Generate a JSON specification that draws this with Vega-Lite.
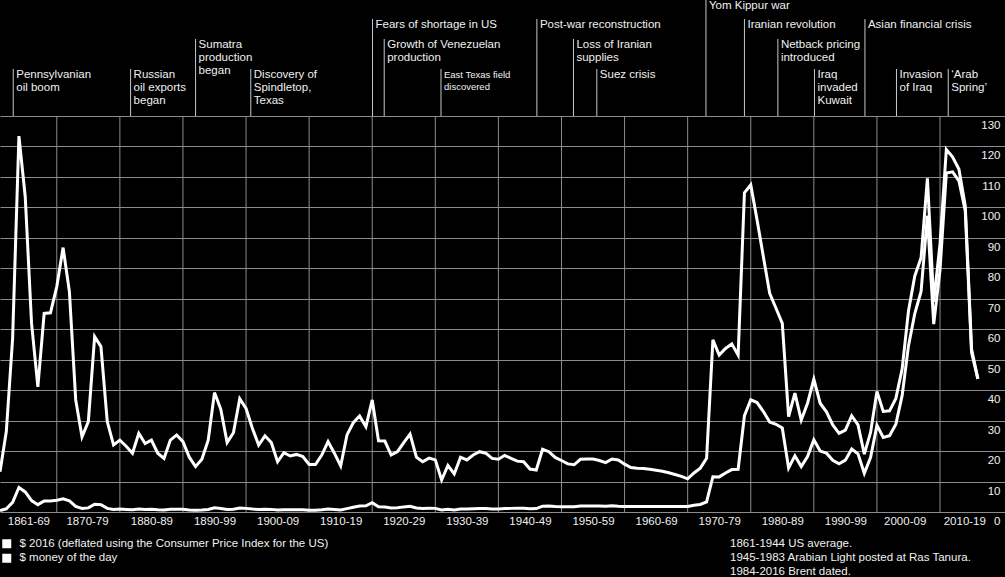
{
  "$schema": "https://vega.github.io/schema/vega-lite/v6.json",
  "width": 1005,
  "height": 396,
  "autosize": "none",
  "padding": {"top": 116, "bottom": 65, "left": 0, "right": 0},
  "background": "#000000",
  "config": {
    "view": {"stroke": null},
    "font": "Liberation Sans",
    "text": {"font": "Liberation Sans"}
  },
  "title": {
    "text": ["1861-1944 US average.", "1945-1983 Arabian Light posted at Ras Tanura.", "1984-2016 Brent dated."],
    "orient": "bottom",
    "anchor": "start",
    "frame": "group",
    "dx": 730,
    "offset": -26,
    "fontSize": 11.5,
    "fontWeight": "normal",
    "font": "Liberation Sans",
    "color": "#f0f0f0",
    "lineHeight": 14
  },
  "datasets": {
    "prices": [
      {"year":1861,"real":13.2,"nominal":0.49},{"year":1862,"real":26.4,"nominal":1.05},{"year":1863,"real":57,"nominal":3.15},{"year":1864,"real":123.4,"nominal":8.06},{"year":1865,"real":103.5,"nominal":6.59},{"year":1866,"real":62,"nominal":3.74},{"year":1867,"real":41.1,"nominal":2.41},{"year":1868,"real":65.2,"nominal":3.63},{"year":1869,"real":65.4,"nominal":3.64},
      {"year":1870,"real":74,"nominal":3.86},{"year":1871,"real":86.8,"nominal":4.34},{"year":1872,"real":72.3,"nominal":3.64},{"year":1873,"real":36.8,"nominal":1.83},{"year":1874,"real":24.7,"nominal":1.17},{"year":1875,"real":29.7,"nominal":1.35},{"year":1876,"real":57.6,"nominal":2.56},{"year":1877,"real":54.3,"nominal":2.42},{"year":1878,"real":29.7,"nominal":1.19},{"year":1879,"real":22,"nominal":0.86},
      {"year":1880,"real":23.6,"nominal":0.95},{"year":1881,"real":21.6,"nominal":0.86},{"year":1882,"real":19.3,"nominal":0.78},{"year":1883,"real":25.8,"nominal":1.0},{"year":1884,"real":22.5,"nominal":0.84},{"year":1885,"real":23.6,"nominal":0.88},{"year":1886,"real":19.3,"nominal":0.71},{"year":1887,"real":17.6,"nominal":0.67},{"year":1888,"real":23.6,"nominal":0.88},{"year":1889,"real":25.3,"nominal":0.94},
      {"year":1890,"real":23.1,"nominal":0.87},{"year":1891,"real":18,"nominal":0.67},{"year":1892,"real":14.9,"nominal":0.56},{"year":1893,"real":17.3,"nominal":0.64},{"year":1894,"real":23.6,"nominal":0.84},{"year":1895,"real":39.2,"nominal":1.36},{"year":1896,"real":33.7,"nominal":1.18},{"year":1897,"real":22.8,"nominal":0.79},{"year":1898,"real":26,"nominal":0.91},{"year":1899,"real":37.2,"nominal":1.29},
      {"year":1900,"real":34,"nominal":1.19},{"year":1901,"real":27.5,"nominal":0.96},{"year":1902,"real":22,"nominal":0.8},{"year":1903,"real":25,"nominal":0.94},{"year":1904,"real":22.8,"nominal":0.86},{"year":1905,"real":16.5,"nominal":0.62},{"year":1906,"real":19.5,"nominal":0.73},{"year":1907,"real":18.4,"nominal":0.72},{"year":1908,"real":18.9,"nominal":0.72},{"year":1909,"real":18.2,"nominal":0.7},
      {"year":1910,"real":15.6,"nominal":0.61},{"year":1911,"real":15.6,"nominal":0.61},{"year":1912,"real":18.7,"nominal":0.74},{"year":1913,"real":23.1,"nominal":0.95},{"year":1914,"real":19.3,"nominal":0.81},{"year":1915,"real":15.1,"nominal":0.64},{"year":1916,"real":25.3,"nominal":1.1},{"year":1917,"real":29.3,"nominal":1.56},{"year":1918,"real":31.5,"nominal":1.98},{"year":1919,"real":28,"nominal":2.01},
      {"year":1920,"real":36.8,"nominal":3.07},{"year":1921,"real":23.4,"nominal":1.73},{"year":1922,"real":23.3,"nominal":1.61},{"year":1923,"real":18.7,"nominal":1.34},{"year":1924,"real":19.8,"nominal":1.43},{"year":1925,"real":22.8,"nominal":1.68},{"year":1926,"real":25.6,"nominal":1.88},{"year":1927,"real":18,"nominal":1.3},{"year":1928,"real":16.5,"nominal":1.17},{"year":1929,"real":17.7,"nominal":1.27},
      {"year":1930,"real":17.1,"nominal":1.19},{"year":1931,"real":10.5,"nominal":0.65},{"year":1932,"real":15.3,"nominal":0.87},{"year":1933,"real":12.5,"nominal":0.67},{"year":1934,"real":18,"nominal":1.0},{"year":1935,"real":17.1,"nominal":0.97},{"year":1936,"real":18.7,"nominal":1.09},{"year":1937,"real":19.8,"nominal":1.18},{"year":1938,"real":19.3,"nominal":1.13},{"year":1939,"real":17.6,"nominal":1.02},
      {"year":1940,"real":17.3,"nominal":1.02},{"year":1941,"real":18.6,"nominal":1.14},{"year":1942,"real":17.6,"nominal":1.19},{"year":1943,"real":16.7,"nominal":1.2},{"year":1944,"real":16.5,"nominal":1.21},{"year":1945,"real":14.1,"nominal":1.05},{"year":1946,"real":13.8,"nominal":1.12},{"year":1947,"real":20.6,"nominal":1.9},{"year":1948,"real":19.8,"nominal":1.99},{"year":1949,"real":17.9,"nominal":1.78},
      {"year":1950,"real":16.9,"nominal":1.71},{"year":1951,"real":15.8,"nominal":1.71},{"year":1952,"real":15.5,"nominal":1.71},{"year":1953,"real":17.3,"nominal":1.93},{"year":1954,"real":17.4,"nominal":1.93},{"year":1955,"real":17.4,"nominal":1.93},{"year":1956,"real":16.9,"nominal":1.93},{"year":1957,"real":16.2,"nominal":1.9},{"year":1958,"real":17.4,"nominal":2.08},{"year":1959,"real":17.1,"nominal":1.9},
      {"year":1960,"real":15.7,"nominal":1.8},{"year":1961,"real":14.6,"nominal":1.8},{"year":1962,"real":14.4,"nominal":1.8},{"year":1963,"real":14.3,"nominal":1.8},{"year":1964,"real":14,"nominal":1.8},{"year":1965,"real":13.7,"nominal":1.8},{"year":1966,"real":13.4,"nominal":1.8},{"year":1967,"real":12.9,"nominal":1.8},{"year":1968,"real":12.3,"nominal":1.8},{"year":1969,"real":11.7,"nominal":1.8},
      {"year":1970,"real":10.9,"nominal":1.8},{"year":1971,"real":12.8,"nominal":2.24},{"year":1972,"real":14.4,"nominal":2.48},{"year":1973,"real":17.6,"nominal":3.29},{"year":1974,"real":56.5,"nominal":11.58},{"year":1975,"real":51.5,"nominal":11.53},{"year":1976,"real":53.7,"nominal":12.8},{"year":1977,"real":55.2,"nominal":13.92},{"year":1978,"real":51.5,"nominal":14.02},{"year":1979,"real":104.8,"nominal":31.61},
      {"year":1980,"real":107.4,"nominal":36.83},{"year":1981,"real":95.9,"nominal":35.93},{"year":1982,"real":83.8,"nominal":32.97},{"year":1983,"real":71.8,"nominal":29.55},{"year":1984,"real":66.9,"nominal":28.78},{"year":1985,"real":61.9,"nominal":27.56},{"year":1986,"real":31.3,"nominal":14.43},{"year":1987,"real":39,"nominal":18.44},{"year":1988,"real":30.2,"nominal":14.92},{"year":1989,"real":35.7,"nominal":18.23},
      {"year":1990,"real":43.6,"nominal":23.73},{"year":1991,"real":35.7,"nominal":20.0},{"year":1992,"real":32.9,"nominal":19.32},{"year":1993,"real":28.6,"nominal":16.97},{"year":1994,"real":25.8,"nominal":15.82},{"year":1995,"real":26.9,"nominal":17.02},{"year":1996,"real":31.6,"nominal":20.67},{"year":1997,"real":28.6,"nominal":19.09},{"year":1998,"real":19,"nominal":12.72},{"year":1999,"real":26.2,"nominal":17.97},
      {"year":2000,"real":39.6,"nominal":28.5},{"year":2001,"real":33,"nominal":24.44},{"year":2002,"real":33.2,"nominal":25.02},{"year":2003,"real":37.3,"nominal":28.83},{"year":2004,"real":47,"nominal":38.27},{"year":2005,"real":66,"nominal":54.52},{"year":2006,"real":77.5,"nominal":65.14},{"year":2007,"real":83.5,"nominal":72.39},{"year":2008,"real":109.5,"nominal":97.26},{"year":2009,"real":69,"nominal":61.67},
      {"year":2010,"real":88,"nominal":79.5},{"year":2011,"real":119,"nominal":111.26},{"year":2012,"real":116.5,"nominal":111.67},{"year":2013,"real":112.5,"nominal":108.66},{"year":2014,"real":100.5,"nominal":98.95},{"year":2015,"real":53.5,"nominal":52.39},{"year":2016,"real":43.7,"nominal":43.73}
    ],
    "decades": [
      {"year":1870},{"year":1880},{"year":1890},{"year":1900},{"year":1910},{"year":1920},{"year":1930},{"year":1940},{"year":1950},{"year":1960},{"year":1970},{"year":1980},{"year":1990},{"year":2000},{"year":2010}
    ],
    "events": [
      {"event":"Pennsylvanian oil boom","year":1863.1,"tier":3,"lines":["Pennsylvanian","oil boom"]},
      {"event":"Russian oil exports began","year":1881.7,"tier":3,"lines":["Russian","oil exports","began"]},
      {"event":"Sumatra production began","year":1892.0,"tier":2,"lines":["Sumatra","production","began"]},
      {"event":"Discovery of Spindletop, Texas","year":1900.75,"tier":3,"lines":["Discovery of","Spindletop,","Texas"]},
      {"event":"Fears of shortage in US","year":1920.05,"tier":1,"lines":["Fears of shortage in US"]},
      {"event":"Growth of Venezuelan production","year":1921.9,"tier":2,"lines":["Growth of Venezuelan","production"]},
      {"event":"East Texas field discovered","year":1930.9,"tier":3,"lines":["East Texas field","discovered"]},
      {"event":"Post-war reconstruction","year":1946.1,"tier":1,"lines":["Post-war reconstruction"]},
      {"event":"Loss of Iranian supplies","year":1951.9,"tier":2,"lines":["Loss of Iranian","supplies"]},
      {"event":"Suez crisis","year":1955.6,"tier":3,"lines":["Suez crisis"]},
      {"event":"Yom Kippur war","year":1972.9,"tier":0,"lines":["Yom Kippur war"]},
      {"event":"Iranian revolution","year":1979.0,"tier":1,"lines":["Iranian revolution"]},
      {"event":"Netback pricing introduced","year":1984.3,"tier":2,"lines":["Netback pricing","introduced"]},
      {"event":"Iraq invaded Kuwait","year":1990.1,"tier":3,"lines":["Iraq","invaded","Kuwait"]},
      {"event":"Asian financial crisis","year":1998.1,"tier":1,"lines":["Asian financial crisis"]},
      {"event":"Invasion of Iraq","year":2003.1,"tier":3,"lines":["Invasion","of Iraq"]},
      {"event":"Arab Spring","year":2011.3,"tier":3,"lines":["\u2018Arab","Spring\u2019"]}
    ]
  },
  "layer": [
    {
      "layer": [
        {
          "data": {"name": "decades"},
          "mark": {"type": "rule", "color": "#8c8c8c", "strokeWidth": 1},
          "encoding": {
            "x": {
              "field": "year", "type": "quantitative",
              "scale": {"domain": [1861, 2020.3], "nice": false, "zero": false},
              "axis": {
                "title": null, "grid": false, "ticks": false, "domain": false,
                "values": [1865.5, 1874.8, 1885, 1895, 1905, 1915, 1925, 1935, 1945, 1955, 1965, 1975, 1985, 1995, 2004.4, 2013.85],
                "labelExpr": "datum.value < 1866 ? '1861-69' : (floor(datum.value/10)*10) + '-' + (floor(datum.value/10)%10) + '9'",
                "labelFontSize": 11.5, "labelColor": "#f0f0f0", "labelFont": "Liberation Sans",
                "labelPadding": 3, "labelFlush": false, "labelOverlap": false, "labelBaseline": "top"
              }
            },
            "y": {
              "datum": 0, "type": "quantitative",
              "scale": {"domain": [0, 130], "nice": false},
              "axis": {
                "title": null, "orient": "right", "values": [0,10,20,30,40,50,60,70,80,90,100,110,120,130],
                "grid": true, "gridColor": "#8c8c8c", "gridWidth": 1, "gridOpacity": 1,
                "ticks": false, "tickSize": 0, "domain": false,
                "labelAlign": "right", "labelPadding": -5, "labelBaseline": "middle", "labelOffset": 9.5,
                "labelFontSize": 11.5, "labelColor": "#f0f0f0", "labelFont": "Liberation Sans", "labelFlush": false, "labelOverlap": false
              }
            },
            "y2": {"datum": 130}
          }
        },
        {
          "data": {"name": "prices"},
          "transform": [{"fold": ["real", "nominal"], "as": ["series", "value"]}],
          "mark": {"type": "line", "strokeWidth": 3, "strokeJoin": "miter", "clip": false},
          "encoding": {
            "x": {
              "field": "year", "type": "quantitative",
              "scale": {"domain": [1861, 2020.3], "nice": false, "zero": false},
              "axis": {
                "title": null, "grid": false, "ticks": false, "domain": false,
                "values": [1865.5, 1874.8, 1885, 1895, 1905, 1915, 1925, 1935, 1945, 1955, 1965, 1975, 1985, 1995, 2004.4, 2013.85],
                "labelExpr": "datum.value < 1866 ? '1861-69' : (floor(datum.value/10)*10) + '-' + (floor(datum.value/10)%10) + '9'",
                "labelFontSize": 11.5, "labelColor": "#f0f0f0", "labelFont": "Liberation Sans",
                "labelPadding": 3, "labelFlush": false, "labelOverlap": false, "labelBaseline": "top"
              }
            },
            "y": {
              "field": "value", "type": "quantitative",
              "scale": {"domain": [0, 130], "nice": false},
              "axis": {
                "title": null, "orient": "right", "values": [0,10,20,30,40,50,60,70,80,90,100,110,120,130],
                "grid": true, "gridColor": "#8c8c8c", "gridWidth": 1, "gridOpacity": 1,
                "ticks": false, "tickSize": 0, "domain": false,
                "labelAlign": "right", "labelPadding": -5, "labelBaseline": "middle", "labelOffset": 9.5,
                "labelFontSize": 11.5, "labelColor": "#f0f0f0", "labelFont": "Liberation Sans", "labelFlush": false, "labelOverlap": false
              }
            },
            "color": {
              "field": "series", "type": "nominal",
              "scale": {"domain": ["real", "nominal"], "range": ["#ffffff", "#ffffff"]},
              "legend": {
                "orient": "none", "legendX": 1, "legendY": 422, "title": null, "padding": 0,
                "symbolType": "square", "symbolSize": 81, "symbolFillColor": "#ffffff", "symbolStrokeWidth": 0,
                "labelFontSize": 11.5, "labelColor": "#f0f0f0", "labelFont": "Liberation Sans", "labelOffset": 7, "labelLimit": 0,
                "rowPadding": 1.5,
                "labelExpr": "datum.label === 'real' ? '$ 2016 (deflated using the Consumer Price Index for the US)' : '$ money of the day'",
                "encode": {"symbols": {"update": {"fill": {"value": "#ffffff"}, "stroke": {"value": "#ffffff"}, "strokeWidth": {"value": 0}, "shape": {"value": "square"}, "size": {"value": 81}}}}
              }
            }
          }
        }
      ]
    },
    {
      "data": {"name": "events"},
      "layer": [
        {
          "mark": {"type": "rule", "color": "#c8c8c8", "strokeWidth": 1},
          "encoding": {
            "x": {
              "field": "year", "type": "quantitative",
              "scale": {"domain": [1861, 2020.3], "nice": false, "zero": false},
              "axis": {
                "title": null, "grid": false, "ticks": false, "domain": false,
                "values": [1865.5, 1874.8, 1885, 1895, 1905, 1915, 1925, 1935, 1945, 1955, 1965, 1975, 1985, 1995, 2004.4, 2013.85],
                "labelExpr": "datum.value < 1866 ? '1861-69' : (floor(datum.value/10)*10) + '-' + (floor(datum.value/10)%10) + '9'",
                "labelFontSize": 11.5, "labelColor": "#f0f0f0", "labelFont": "Liberation Sans",
                "labelPadding": 3, "labelFlush": false, "labelOverlap": false, "labelBaseline": "top"
              }
            },
            "y": {"field": "tier", "type": "quantitative", "scale": {"domain": [0, 1, 2, 3, 4], "range": [-116, -97, -77, -47, 0], "nice": false, "zero": false},
              "axis": {"title": null, "orient": "left", "grid": false, "ticks": false, "domain": false, "labels": false}},
            "y2": {"datum": 4}
          }
        },
        {
          "transform": [{"filter": "datum.event !== 'East Texas field discovered'"}],
          "mark": {"type": "text", "align": "left", "baseline": "top", "dx": 3, "dy": 0, "fontSize": 11.5, "lineHeight": 13, "color": "#f0f0f0", "font": "Liberation Sans"},
          "encoding": {
            "x": {"field": "year", "type": "quantitative"},
            "y": {"field": "tier", "type": "quantitative"},
            "text": {"field": "lines", "type": "nominal"}
          }
        },
        {
          "transform": [{"filter": "datum.event === 'East Texas field discovered'"}],
          "mark": {"type": "text", "align": "left", "baseline": "top", "dx": 3, "dy": 1, "fontSize": 9.5, "lineHeight": 12, "color": "#f0f0f0", "font": "Liberation Sans"},
          "encoding": {
            "x": {"field": "year", "type": "quantitative"},
            "y": {"field": "tier", "type": "quantitative"},
            "text": {"field": "lines", "type": "nominal"}
          }
        }
      ]
    }
  ],
  "resolve": {"scale": {"y": "independent"}}
}
